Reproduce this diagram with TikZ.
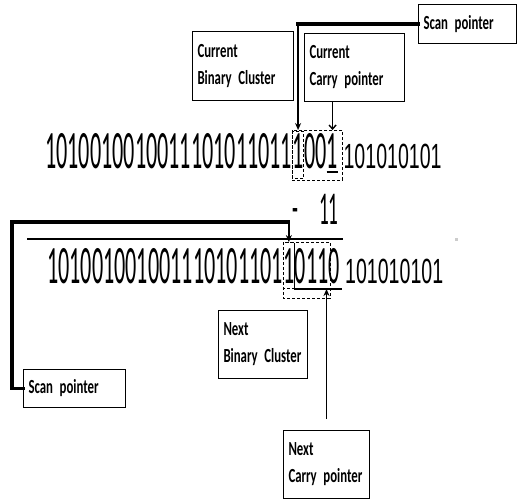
\documentclass[tikz,border=0pt]{standalone}
\usepackage{fontspec}
\usetikzlibrary{arrows.meta}
\newfontfamily\lblfont[FakeStretch=0.64]{Carlito}
\newfontfamily\bitfont[FakeStretch=0.41]{Carlito}
\newfontfamily\tailfont[FakeStretch=0.56]{Liberation Sans}
\newcommand\lblsize{\fontsize{20}{27}\selectfont\fontdimen2\font=2.6pt\fontdimen3\font=0pt}
\tikzset{
	lbl/.style={draw=black, line width=1pt, anchor=north west, align=left,
		inner xsep=5pt, inner ysep=2pt, font=\lblfont\bfseries\lblsize},
	bits/.style={anchor=base west, inner sep=0pt, font=\bitfont\fontsize{54}{54}\selectfont},
	tailbits/.style={anchor=base west, inner sep=0pt, font=\tailfont\fontsize{35}{35}\selectfont},
	clus/.style={draw, line width=0.9pt, dash pattern=on 3pt off 2pt},
	scanln/.style={line width=3.2pt, line cap=rect},
	ptr/.style={line width=1.8pt, -{Stealth[length=7pt,width=6pt]}},
	cptr/.style={line width=1.4pt, -{Straight Barb[length=4pt,width=7pt]}}
}

\begin{document}
\begin{tikzpicture}[x=1pt, y=-1pt]
	\useasboundingbox[fill=white] (0,0) rectangle (517,500);
	% label boxes
	\node[lbl, text width=88pt, minimum height=39pt] (scantop) at (418,4) {Scan pointer};
	\node[lbl, text width=91pt, minimum height=69pt] (curbin) at (192,31) {Current\\Binary Cluster};
	\node[lbl, text width=90pt, minimum height=68pt] (curcarry) at (304,33) {Current\\Carry pointer};
	\node[lbl, text width=79pt, minimum height=68pt] (nextbin) at (218,310) {Next\\Binary Cluster};
	\node[lbl, text width=76pt, minimum height=68pt] (nextcarry) at (283,430) {Next\\Carry pointer};
	\node[lbl, text width=92pt, minimum height=38pt] (scanbot) at (23,369) {Scan pointer};
	% first string
	\node[bits] (r1pre) at (45,169) {1010010010011101011011};
	\node[bits] (r1scan) at (r1pre.base east) {1};
	\node[bits] (r1mid) at (r1scan.base east) {00};
	\node[bits] (r1car) at (r1mid.base east) {1};
	\node[tailbits] (r1tail) at ([xshift=5pt]r1car.base east) {101010101};
	% subtraction
	\node[bits, font=\bitfont\fontsize{47}{47}\selectfont] (minus) at (292,223) {-};
	\node[bits, font=\bitfont\fontsize{47}{47}\selectfont] (sub) at (319,225) {11};
	\draw[line width=1.6pt] (27,239) -- (343,239);
	\fill[gray!40] (455,238) rectangle (458,241);
	% second string
	\node[bits] (r2pre) at (47,283) {101001001001110101101};
	\node[bits] (r2scan) at (r2pre.base east) {1};
	\node[bits] (r2new) at (r2scan.base east) {0110};
	\node[tailbits] (r2tail) at ([xshift=5pt]r2new.base east) {101010101};
	% clusters
	\draw[clus] ([yshift=4pt]r1scan.north west) rectangle ([xshift=4pt,yshift=-11pt]r1car.base east);
	\draw[clus] ([yshift=3pt]r1scan.north west) rectangle ([yshift=-9pt]r1scan.base east);
	\draw[line width=1.8pt] ([yshift=-3pt]r1car.base west) -- ([yshift=-3pt]r1car.base east);
	\draw[clus] ([yshift=6pt]r2scan.north west) rectangle ([xshift=-10pt,yshift=-15pt]r2new.base east);
	\draw[clus] ([yshift=6pt]r2scan.north west) rectangle ([yshift=-5pt]r2scan.base east);
	\coordinate (brk) at ([yshift=-6pt]r2scan.base east);
	\draw[line width=1.2pt] ([yshift=4pt]r2scan.north east) -- (brk) -- ([xshift=2pt]brk -| r2new.base east);
	% pointers
	\coordinate (k1) at (r1scan.north |- scantop.west);
	\draw[scanln] (scantop.west) -- (k1);
	\draw[ptr] (k1) -- ([yshift=4pt]r1scan.north);
	\draw[cptr] (curcarry.south -| r1car.north) -- ([yshift=4pt]r1car.north);
	\coordinate (k2) at ([xshift=-11pt]scanbot.west);
	\coordinate (k3) at (k2 |- 0,222);
	\draw[scanln] (scanbot.west) -- (k2) -- (k3) -- (k3 -| r2scan.north);
	\draw[ptr] (k3 -| r2scan.north) -- ([yshift=6pt]r2scan.north);
	\draw[ptr, shorten <=11pt] (nextcarry.north) -- (nextcarry.north |- brk);
\end{tikzpicture}
\end{document}
